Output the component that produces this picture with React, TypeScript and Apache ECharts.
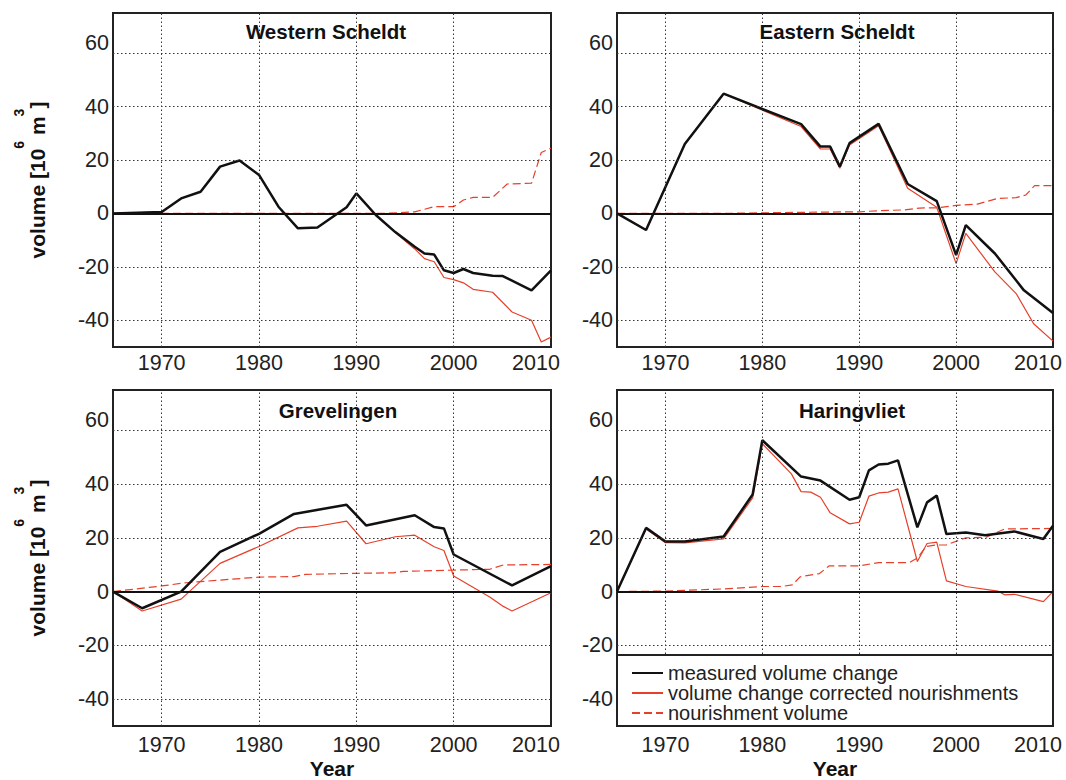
import React, { useEffect, useRef } from 'react';
import * as echarts from 'echarts';

const FONT = '"Liberation Sans", Arial, Helvetica, sans-serif';
const RED = '#e6402a';
const BLACK = '#111111';

// ---- Data (years, values in 10^6 m^3) ----
// Western Scheldt
const wsMeasYears = [1965, 1970, 1972, 1974, 1976, 1978, 1980, 1982, 1984, 1986, 1989, 1990, 1992, 1994, 1996, 1997, 1998, 1999, 2000, 2001, 2002, 2004, 2005, 2008, 2010];
const wsMeas = [0, 0.5, 5.6, 8.1, 17.5, 19.8, 14.4, 2.5, -5.6, -5.3, 2.3, 7.5, -0.6, -7, -12.5, -15, -15.4, -21.3, -22.3, -20.8, -22.3, -23.3, -23.4, -28.8, -21.3];
const wsCorrYears = [1965, 1970, 1972, 1974, 1976, 1978, 1980, 1982, 1984, 1986, 1989, 1990, 1992, 1994, 1996, 1997, 1998, 1999, 2000, 2001, 2002, 2004, 2006, 2008, 2009, 2010];
const wsCorr = [0, 0.5, 5.6, 8.1, 17.5, 19.8, 14.4, 2.5, -5.6, -5.3, 2.3, 7.5, -0.6, -7.2, -13.3, -16.9, -18.1, -24, -24.8, -26, -28.4, -29.5, -36.9, -40, -48.1, -46.3];
const wsNourYears = [1965, 1993, 1996, 1998, 2000, 2001, 2002, 2004, 2005.5, 2008, 2009, 2010];
const wsNour = [0, 0, 0.6, 2.5, 2.5, 5, 6, 6, 11, 11.3, 22.8, 24.4];

// Eastern Scheldt
const esMeasYears = [1965, 1968, 1972, 1976, 1984, 1986, 1987, 1988, 1989, 1992, 1995, 1998, 2000, 2001, 2004, 2007, 2010];
const esMeas = [0, -6.2, 26, 44.8, 33.4, 25, 25, 17.5, 26.3, 33.5, 11, 4.6, -15.6, -4.4, -15, -28.8, -37.3];
const esCorrYears = [1965, 1968, 1972, 1976, 1984, 1986, 1987, 1988, 1989, 1992, 1995, 1998, 2000, 2001, 2004, 2006.2, 2008, 2010];
const esCorr = [0, -6.2, 26, 44.8, 32.5, 24.1, 24.1, 16.9, 25.6, 32.8, 9.4, 2.3, -18.8, -7.5, -21.9, -30, -41.3, -47.8];
const esNourYears = [1965, 1976, 1984, 1990, 1992, 1994.6, 1996.2, 1998, 2000, 2002.2, 2004.3, 2006.2, 2007.2, 2008.1, 2010];
const esNour = [0, 0, 0.4, 0.6, 1, 1.3, 2, 2.1, 3, 3.5, 5.6, 5.9, 6.9, 10.4, 10.4];

// Grevelingen
const gMeasYears = [1965, 1968, 1972, 1976, 1980, 1983.6, 1989, 1991, 1996, 1998, 1999, 2000, 2006, 2010];
const gMeas = [0, -6.2, 0, 14.8, 21.5, 28.9, 32.3, 24.6, 28.4, 24, 23.5, 13.8, 2.3, 9.5];
const gCorrYears = [1965, 1968, 1972, 1976, 1980, 1984, 1986, 1989, 1991, 1994, 1996, 1998, 1999, 2000, 2003.7, 2005, 2006, 2010];
const gCorr = [0, -7.2, -2.8, 10.5, 16.8, 23.7, 24.3, 26.2, 17.8, 20.4, 21, 16.7, 15.3, 5.8, -2, -5.3, -7.2, -0.4];
const gNourYears = [1965, 1970, 1972.5, 1980, 1983.6, 1984.8, 1990, 1993.8, 1994.8, 2000, 2003.7, 2005.1, 2010];
const gNour = [0, 2.1, 3.3, 5.4, 5.6, 6.4, 6.8, 7, 7.5, 8, 8.3, 9.9, 10.1];

// Haringvliet
const hMeasYears = [1965, 1968, 1970, 1972, 1976, 1979, 1980, 1984, 1986, 1989, 1990, 1991, 1992, 1993, 1994, 1996, 1997, 1998, 1999, 2001, 2003, 2006, 2009, 2010];
const hMeas = [0, 23.7, 18.6, 18.6, 20.5, 36.1, 56.3, 42.8, 41.3, 34.2, 35.1, 45.1, 47.3, 47.6, 48.8, 23.9, 33.2, 35.7, 21.4, 22, 21, 22.4, 19.6, 24.5];
const hCorrYears = [1965, 1968, 1970, 1972, 1976, 1979, 1980, 1983, 1984, 1985, 1986, 1987, 1989, 1990, 1991, 1992, 1993, 1994, 1996, 1997, 1998, 1999, 2001, 2004.3, 2005, 2006, 2009, 2010];
const hCorr = [0, 23.3, 18.2, 18.1, 19.6, 34.9, 55, 43.8, 37.2, 37, 35.1, 29.3, 25.2, 25.8, 35.5, 36.7, 37, 38.2, 11.2, 17.9, 18.4, 4, 1.9, 0.2, -1.2, -1, -3.7, 0];
const hNourYears = [1965, 1970, 1976, 1980, 1982, 1983.1, 1983.9, 1985.9, 1986.9, 1990, 1992, 1995.2, 1996, 1996.9, 1997.9, 1999, 2001, 2003.1, 2005, 2010];
const hNour = [0, 0.2, 1, 1.9, 1.9, 2.5, 5.5, 6.7, 9.6, 9.6, 10.8, 10.8, 12.5, 16.8, 17.3, 17.4, 20, 20.2, 23.3, 23.5];

const panelTitles = ['Western Scheldt', 'Eastern Scheldt', 'Grevelingen', 'Haringvliet'];
const seriesNames = ['measured volume change', 'volume change corrected nourishments', 'nourishment volume'];
const xGridYears = [1970, 1980, 1990, 2000];
const yGridValues = [-40, -20, 20, 40, 60];
const xAxisTitle = 'Year';

const panelData = [
  { meas: [wsMeasYears, wsMeas], corr: [wsCorrYears, wsCorr], nour: [wsNourYears, wsNour] },
  { meas: [esMeasYears, esMeas], corr: [esCorrYears, esCorr], nour: [esNourYears, esNour] },
  { meas: [gMeasYears, gMeas], corr: [gCorrYears, gCorr], nour: [gNourYears, gNour] },
  { meas: [hMeasYears, hMeas], corr: [hCorrYears, hCorr], nour: [hNourYears, hNour] },
];

// ---- Layout ----
const layouts = [
  { left: 113, top: 13, width: 438, height: 334, titleX: 326, titleY: 31, bottomRow: false, leftCol: true },
  { left: 617, top: 13, width: 436, height: 334, titleX: 837, titleY: 31, bottomRow: false, leftCol: false },
  { left: 113, top: 390, width: 438, height: 336, titleX: 338, titleY: 410, bottomRow: true, leftCol: true },
  { left: 617, top: 390, width: 436, height: 336, titleX: 852, titleY: 410, bottomRow: true, leftCol: false },
];

const pairs = (xs: number[], ys: number[]) => xs.map((x, i) => [x, ys[i]]);

function buildOption() {
  const grid: any[] = [];
  const xAxis: any[] = [];
  const yAxis: any[] = [];
  const series: any[] = [];
  const graphic: any[] = [];

  layouts.forEach((L, i) => {
    grid.push({
      left: L.left, top: L.top, width: L.width, height: L.height,
      show: true, borderColor: '#222', borderWidth: 2, backgroundColor: 'transparent',
      containLabel: false,
    });
    const labelBase = { fontSize: 21.5, fontFamily: FONT, color: '#222' };
    xAxis.push({
      gridIndex: i, type: 'value', min: 1965, max: 2010, interval: 5,
      axisLine: { show: false }, axisTick: { show: false }, splitLine: { show: false },
      axisLabel: {
        ...labelBase,
        showMinLabel: true, showMaxLabel: true,
        margin: L.bottomRow ? 8 : 5,
        formatter: (v: number) => {
          if (v % 10 !== 0 || v <= 1965) return '';
          return v === 2010 ? '{e|2010}' : String(v);
        },
        rich: { e: { ...labelBase, padding: [0, 30, 0, 0] } },
      },
    });
    yAxis.push({
      gridIndex: i, type: 'value', min: -50, max: 75, interval: 10,
      axisLine: { show: false }, axisTick: { show: false }, splitLine: { show: false },
      axisLabel: {
        ...labelBase,
        showMinLabel: true, showMaxLabel: true,
        margin: 4,
        formatter: (v: number) => {
          if (v % 20 !== 0 || v < -40 || v > 60) return '';
          return v === 60 ? '{t|60}' : String(v);
        },
        rich: { t: { ...labelBase, padding: [0, 0, 20, 0] } },
      },
    });

    // grid lines + zero line
    series.push({
      type: 'line', name: '_grid' + i, xAxisIndex: i, yAxisIndex: i,
      data: [[1965, 0]], symbol: 'none', lineStyle: { opacity: 0 }, silent: true, z: 1,
      markLine: {
        silent: true, symbol: ['none', 'none'], label: { show: false },
        lineStyle: { color: '#333', type: [1.5, 2.5], width: 1 },
        emphasis: { disabled: true },
        data: [
          ...xGridYears.map((x) => ({ xAxis: x })),
          ...yGridValues.map((y) => ({ yAxis: y })),
          { yAxis: 0, lineStyle: { color: BLACK, type: 'solid', width: 2 } },
        ],
      },
    });

    const d = panelData[i];
    series.push({
      type: 'line', name: seriesNames[2], xAxisIndex: i, yAxisIndex: i,
      data: pairs(d.nour[0], d.nour[1]), symbol: 'none', z: 2,
      lineStyle: { color: RED, width: 1.2, type: [8, 4] }, itemStyle: { color: RED },
    });
    series.push({
      type: 'line', name: seriesNames[1], xAxisIndex: i, yAxisIndex: i,
      data: pairs(d.corr[0], d.corr[1]), symbol: 'none', z: 3,
      lineStyle: { color: RED, width: 1.2 }, itemStyle: { color: RED },
    });
    series.push({
      type: 'line', name: seriesNames[0], xAxisIndex: i, yAxisIndex: i,
      data: pairs(d.meas[0], d.meas[1]), symbol: 'none', z: 4,
      lineStyle: { color: BLACK, width: 2.5 }, itemStyle: { color: BLACK },
    });

    graphic.push({
      type: 'text', x: L.titleX, y: L.titleY, z: 10,
      style: {
        text: panelTitles[i], font: `bold 20.5px ${FONT}`, fill: '#111',
        align: 'center', verticalAlign: 'middle', textAlign: 'center', textVerticalAlign: 'middle',
      },
    });
    if (L.leftCol) {
      graphic.push({
        type: 'text', x: 37, y: L.top + L.height / 2, rotation: Math.PI / 2, z: 10,
        style: {
          text: '{m|volume [10}{s|6}{m| m}{s|3}{m|]}',
          fill: '#111',
          align: 'center', verticalAlign: 'middle', textAlign: 'center', textVerticalAlign: 'middle',
          rich: {
            m: { font: `bold 21px ${FONT}`, fill: '#111', lineHeight: 51, verticalAlign: 'middle' },
            s: { font: `bold 14px ${FONT}`, fill: '#111', lineHeight: 14, verticalAlign: 'top' },
          },
        },
      });
    }
    if (L.bottomRow) {
      graphic.push({
        type: 'text', x: L.left + L.width / 2, y: 768, z: 10,
        style: {
          text: xAxisTitle, font: `bold 21px ${FONT}`, fill: '#111',
          align: 'center', verticalAlign: 'middle', textAlign: 'center', textVerticalAlign: 'middle',
        },
      });
    }
  });

  // legend box in Haringvliet panel
  graphic.push({
    type: 'rect', z: 10,
    shape: { x: 617, y: 655, width: 436, height: 71 },
    style: { fill: '#ffffff', stroke: '#222', lineWidth: 2 },
  });

  return {
    animation: false,
    backgroundColor: '#ffffff',
    grid, xAxis, yAxis, series, graphic,
    legend: {
      data: seriesNames, orient: 'vertical', left: 631, top: 663, padding: 0,
      itemWidth: 31, itemHeight: 12, itemGap: 0, selectedMode: false, z: 20,
      itemStyle: { opacity: 0, borderWidth: 0 },
      textStyle: { fontSize: 20, fontFamily: FONT, color: '#222', lineHeight: 19 },
    },
  };
}

export default function App() {
  const ref = useRef<HTMLDivElement>(null);
  useEffect(() => {
    if (!ref.current) return;
    const chart = echarts.init(ref.current, undefined, { renderer: 'svg' });
    chart.setOption(buildOption() as any);
    return () => chart.dispose();
  }, []);
  return (
    <div
      ref={ref}
      style={{ position: 'fixed', left: 0, top: 0, width: 1066, height: 780, background: '#fff' }}
    />
  );
}
